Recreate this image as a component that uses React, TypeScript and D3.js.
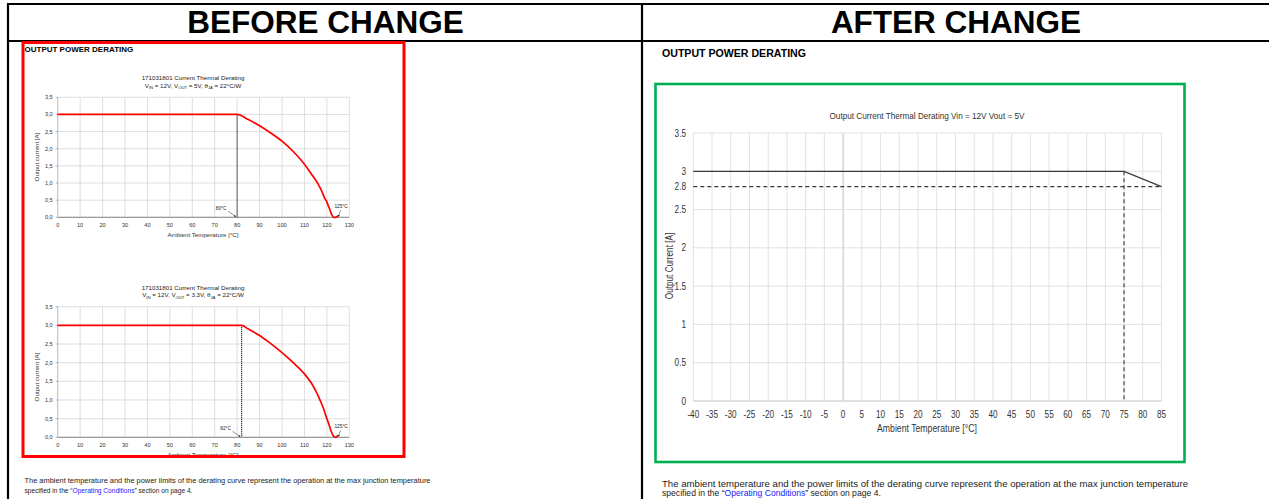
import React from 'react';
import * as d3 from 'd3';

// ---------- BEFORE CHANGE data ----------
const beforeXTicks = [0, 10, 20, 30, 40, 50, 60, 70, 80, 90, 100, 110, 120, 130];
const beforeYTicks = [0, 0.5, 1, 1.5, 2, 2.5, 3, 3.5];

const chart5VTemps = [0, 80, 85, 90, 95, 100, 105, 110, 113, 116, 118, 119, 120, 120.5, 121, 122, 123, 124, 125];
const chart5VCurrent = [3.0, 3.0, 2.85, 2.67, 2.46, 2.22, 1.92, 1.55, 1.27, 0.98, 0.72, 0.56, 0.45, 0.36, 0.28, 0.1, 0.0, 0.0, 0.05];
const chart5VKnee = 80;

const chart33VTemps = [0, 82, 85, 90, 95, 100, 105, 110, 113, 115, 117, 118.5, 120, 120.5, 121, 122, 123, 124, 125];
const chart33VCurrent = [3.0, 3.0, 2.9, 2.73, 2.51, 2.27, 2.0, 1.7, 1.46, 1.25, 0.99, 0.77, 0.5, 0.42, 0.33, 0.15, 0.03, 0.0, 0.06];
const chart33VKnee = 82;
const maxTemp = 125;

// ---------- AFTER CHANGE data ----------
const afterXTicks = [-40, -35, -30, -25, -20, -15, -10, -5, 0, 5, 10, 15, 20, 25, 30, 35, 40, 45, 50, 55, 60, 65, 70, 75, 80, 85];
const afterYTicks = [0, 0.5, 1, 1.5, 2, 2.5, 2.8, 3, 3.5];
const afterGridY = [0.5, 1, 1.5, 2, 2.5, 3, 3.5];
const afterTemps = [-40, 75, 85];
const afterCurrent = [3, 3, 2.8];
const afterKneeTemp = 75;
const afterEndCurrent = 2.8;

const SANS = "'Liberation Sans', Arial, Helvetica, sans-serif";
const NARROW_SCALE = 0.82;

const commaFmt = (v: number) => d3.format('.1f')(v).replace('.', ',');

type NProps = {
  x: number;
  y: number;
  size: number;
  anchor?: 'start' | 'middle' | 'end';
  rotate?: boolean;
  children: React.ReactNode;
};

// condensed (Arial Narrow–like) text
function NText({ x, y, size, anchor = 'middle', rotate = false, children }: NProps) {
  const t = rotate
    ? `translate(${x},${y}) rotate(-90) scale(${NARROW_SCALE},1)`
    : `translate(${x},${y}) scale(${NARROW_SCALE},1)`;
  return (
    <text transform={t} fontSize={size} textAnchor={anchor} fill="#333" fontFamily={SANS}>
      {children}
    </text>
  );
}

type BeforeProps = {
  yBottom: number;
  yTop: number;
  titleY: number;
  vout: string;
  temps: number[];
  currents: number[];
  knee: number;
  yTitleY: number;
};

function BeforeChart({ yBottom, yTop, titleY, vout, temps, currents, knee, yTitleY }: BeforeProps) {
  const x = d3.scaleLinear().domain([0, 130]).range([57.7, 349.3]);
  const y = d3.scaleLinear().domain([0, 3.5]).range([yBottom, yTop]);
  const line = d3
    .line<number>()
    .x((_, i) => x(temps[i]))
    .y((d) => y(d))
    .curve(d3.curveMonotoneX);
  const fs = 5.6;
  return (
    <g fontFamily={SANS}>
      <text x={193} y={titleY} fontSize={6.2} textAnchor="middle" fill="#222">
        171031801  Current Thermal Derating
      </text>
      <text x={193} y={titleY + 7.8} fontSize={6.2} textAnchor="middle" fill="#222">
        V<tspan fontSize={4.2} dy={1.3}>IN</tspan>
        <tspan dy={-1.3}> = 12V, V</tspan>
        <tspan fontSize={4.2} dy={1.3}>OUT</tspan>
        <tspan dy={-1.3}> = {vout}, θ</tspan>
        <tspan fontSize={4.2} dy={1.3}>JA</tspan>
        <tspan dy={-1.3}> = 22°C/W</tspan>
      </text>
      {/* grid */}
      {beforeXTicks.map((t) => (
        <line key={'gx' + t} x1={x(t)} x2={x(t)} y1={y(0)} y2={y(3.5)} stroke="#d6d6d6" strokeWidth={0.8} />
      ))}
      {beforeYTicks.map((t) => (
        <line key={'gy' + t} x1={x(0)} x2={x(130)} y1={y(t)} y2={y(t)} stroke="#d6d6d6" strokeWidth={0.8} />
      ))}
      <line x1={x(0)} x2={x(0)} y1={y(0)} y2={y(3.5)} stroke="#bdbdbd" strokeWidth={0.9} />
      <line x1={x(0)} x2={x(130)} y1={y(0)} y2={y(0)} stroke="#9a9a9a" strokeWidth={1.2} />
      {beforeYTicks.map((t) => (
        <line key={'tk' + t} x1={x(0) - 2} x2={x(0)} y1={y(t)} y2={y(t)} stroke="#9a9a9a" strokeWidth={0.8} />
      ))}
      {/* tick labels */}
      {beforeYTicks.map((t) => (
        <text key={'yl' + t} x={x(0) - 5} y={y(t) + 2} fontSize={fs} textAnchor="end" fill="#333">
          {commaFmt(t)}
        </text>
      ))}
      {beforeXTicks.map((t) => (
        <text key={'xl' + t} x={x(t)} y={y(0) + 10} fontSize={fs} textAnchor="middle" fill="#333">
          {t}
        </text>
      ))}
      <text x={203} y={y(0) + 20} fontSize={6.2} textAnchor="middle" fill="#333">
        Ambient Temperature [°C]
      </text>
      <text
        transform={`translate(38.8,${yTitleY}) rotate(-90)`}
        fontSize={6.2}
        textAnchor="middle"
        fill="#333"
      >
        Output current [A]
      </text>
      {/* knee dotted line */}
      <line x1={x(knee)} x2={x(knee)} y1={y(3)} y2={y(0)} stroke="#000" strokeWidth={1.2} strokeDasharray="1,1" />
      {/* curve */}
      <path d={line(currents) || ''} fill="none" stroke="#ff0000" strokeWidth={1.7} strokeLinejoin="round" />
      {/* annotations */}
      <text x={x(knee) - 16} y={y(0) - 7.5} fontSize={4.8} textAnchor="middle" fill="#222">
        {knee}°C
      </text>
      <line
        x1={x(knee) - 9}
        y1={y(0) - 6}
        x2={x(knee) - 1.5}
        y2={y(0) - 0.8}
        stroke="#222"
        strokeWidth={0.5}
        markerEnd="url(#arrowBlk)"
      />
      <text x={x(maxTemp) + 3} y={y(0) - 9} fontSize={4.8} textAnchor="middle" fill="#222">
        {maxTemp}°C
      </text>
      <line
        x1={x(maxTemp) + 2.5}
        y1={y(0) - 7}
        x2={x(maxTemp) + 0.3}
        y2={y(0) - 0.8}
        stroke="#222"
        strokeWidth={0.5}
        markerEnd="url(#arrowBlk)"
      />
    </g>
  );
}

function AfterChart() {
  const x = d3.scaleLinear().domain([-40, 85]).range([693.3, 1161.5]);
  const y = d3.scaleLinear().domain([0, 3.5]).range([401, 133]);
  const line = d3
    .line<number>()
    .x((_, i) => x(afterTemps[i]))
    .y((d) => y(d));
  return (
    <g>
      <text x={927} y={118.5} fontSize={9.6} textAnchor="middle" fill="#333" fontFamily={SANS} textLength={195} lengthAdjust="spacingAndGlyphs">
        Output Current Thermal Derating Vin = 12V Vout = 5V
      </text>
      {afterXTicks.map((t) => (
        <line
          key={'gx' + t}
          x1={x(t)}
          x2={x(t)}
          y1={y(0)}
          y2={y(3.5)}
          stroke={t === 0 ? '#c6c6c6' : '#dedede'}
          strokeWidth={t === 0 ? 1.1 : 0.9}
        />
      ))}
      {afterGridY.map((t) => (
        <line key={'gy' + t} x1={x(-40)} x2={x(85)} y1={y(t)} y2={y(t)} stroke="#dedede" strokeWidth={0.9} />
      ))}
      <line x1={x(-40)} x2={x(85)} y1={y(0)} y2={y(0)} stroke="#c4c4c4" strokeWidth={1} />
      {/* dashed reference lines */}
      <line
        x1={x(-40)}
        x2={x(85)}
        y1={y(afterEndCurrent)}
        y2={y(afterEndCurrent)}
        stroke="#3a3a3a"
        strokeWidth={1.1}
        strokeDasharray="4,3"
      />
      <line
        x1={x(afterKneeTemp)}
        x2={x(afterKneeTemp)}
        y1={y(3)}
        y2={y(0)}
        stroke="#3a3a3a"
        strokeWidth={1.1}
        strokeDasharray="4,3"
      />
      <path d={line(afterCurrent) || ''} fill="none" stroke="#3a3a3a" strokeWidth={1.3} />
      {afterYTicks.map((t) => (
        <NText key={'yl' + t} x={686} y={y(t) + 3.5} size={10} anchor="end">
          {d3.format('~g')(t)}
        </NText>
      ))}
      {afterXTicks.map((t) => (
        <NText key={'xl' + t} x={x(t)} y={y(0) + 16.5} size={10}>
          {t}
        </NText>
      ))}
      <NText x={927} y={431.5} size={10.6}>
        Ambient Temperature [°C]
      </NText>
      <NText x={672.5} y={266} size={10} rotate>
        Output Current [A]
      </NText>
    </g>
  );
}

export default function App() {
  const footer1 =
    'The ambient temperature and the power limits of the derating curve represent the operation at the max junction temperature';
  return (
    <svg
      width={1269}
      height={499}
      viewBox="0 0 1269 499"
      style={{ position: 'absolute', left: 0, top: 0, background: '#fff' }}
    >
      <defs>
        <marker id="arrowBlk" viewBox="0 0 6 6" refX={5} refY={3} markerWidth={4} markerHeight={4} orient="auto">
          <path d="M0,0 L6,3 L0,6 z" fill="#222" />
        </marker>
      </defs>
      <rect x={0} y={0} width={1269} height={499} fill="#fff" />

      {/* header table */}
      <line x1={7} x2={1269} y1={4} y2={4} stroke="#000" strokeWidth={2.2} />
      <line x1={7} x2={1269} y1={41} y2={41} stroke="#000" strokeWidth={2.2} />
      <line x1={8} x2={8} y1={3} y2={499} stroke="#000" strokeWidth={2.2} />
      <line x1={642} x2={642} y1={3} y2={499} stroke="#000" strokeWidth={2.2} />
      <text x={325.5} y={33} fontFamily={SANS} fontWeight="bold" fontSize={31.5} textAnchor="middle" fill="#000">
        BEFORE CHANGE
      </text>
      <text x={956} y={33} fontFamily={SANS} fontWeight="bold" fontSize={31.5} textAnchor="middle" fill="#000">
        AFTER CHANGE
      </text>

      {/* BEFORE panel */}
      <text x={24.5} y={52} fontFamily={SANS} fontWeight="bold" fontSize={8} fill="#000">
        OUTPUT POWER DERATING
      </text>
      <BeforeChart
        yBottom={217.3}
        yTop={97.3}
        titleY={80}
        vout="5V"
        temps={chart5VTemps}
        currents={chart5VCurrent}
        knee={chart5VKnee}
        yTitleY={157}
      />
      <BeforeChart
        yBottom={437.3}
        yTop={306.7}
        titleY={289.5}
        vout="3.3V"
        temps={chart33VTemps}
        currents={chart33VCurrent}
        knee={chart33VKnee}
        yTitleY={377}
      />
      <rect x={20} y={458.2} width={390} height={6} fill="#fff" />
      <rect x={23} y={42.5} width={381} height={414} fill="none" stroke="#ff0000" strokeWidth={3} />
      <text x={24.5} y={482.5} fontFamily={SANS} fontSize={6.6} fill="#222" textLength={406} lengthAdjust="spacingAndGlyphs">
        {footer1}
      </text>
      <text x={24.5} y={492.5} fontFamily={SANS} fontSize={6.6} fill="#222">
        specified in the “<tspan fill="#1a1aff">Operating Conditions</tspan>” section on page 4.
      </text>

      {/* AFTER panel */}
      <text x={662} y={57} fontFamily={SANS} fontWeight="bold" fontSize={10.6} fill="#000">
        OUTPUT POWER DERATING
      </text>
      <rect x={655.5} y={84} width={529} height={378} fill="none" stroke="#00b050" strokeWidth={2.6} />
      <AfterChart />
      <text x={662} y={487} fontFamily={SANS} fontSize={8.6} fill="#222" textLength={526} lengthAdjust="spacingAndGlyphs">
        {footer1}
      </text>
      <text x={662} y={496} fontFamily={SANS} fontSize={8.6} fill="#222">
        specified in the “<tspan fill="#1a1aff">Operating Conditions</tspan>” section on page 4.
      </text>
    </svg>
  );
}
